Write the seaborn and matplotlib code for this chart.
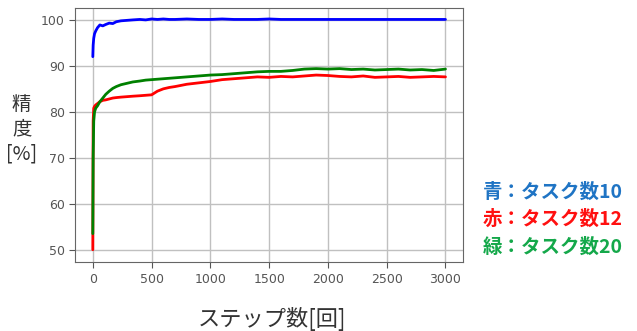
import matplotlib
matplotlib.use("Agg")
import matplotlib.pyplot as plt
import seaborn as sns
import pandas as pd

steps = [0, 3, 8, 15, 25, 40, 60, 85, 110, 140, 170, 200, 240, 290, 340, 400, 450, 500,
         550, 600, 650, 700, 800, 900, 1000, 1100, 1200, 1300, 1400, 1500, 1600, 1700,
         1800, 1900, 2000, 2100, 2200, 2300, 2400, 2500, 2600, 2700, 2800, 2900, 3000]

blue_acc = [92.0, 94.5, 96.0, 97.0, 97.6, 98.3, 98.9, 98.7, 99.0, 99.3, 99.2, 99.6, 99.8, 99.9,
            100.0, 100.1, 100.0, 100.2, 100.1, 100.2, 100.1, 100.1, 100.2, 100.1, 100.1, 100.2,
            100.1, 100.1, 100.1, 100.2, 100.1, 100.1, 100.1, 100.1, 100.1, 100.1, 100.1, 100.1,
            100.1, 100.1, 100.1, 100.1, 100.1, 100.1, 100.1]

red_acc = [50.0, 78.0, 80.8, 81.2, 81.5, 81.8, 82.2, 82.5, 82.6, 82.8, 83.0, 83.1, 83.2, 83.3,
           83.4, 83.5, 83.6, 83.7, 84.5, 85.0, 85.3, 85.5, 86.0, 86.3, 86.6, 87.0, 87.2, 87.4,
           87.6, 87.5, 87.7, 87.6, 87.8, 88.0, 87.9, 87.7, 87.6, 87.8, 87.5, 87.6, 87.7, 87.5,
           87.6, 87.7, 87.6]

green_acc = [53.5, 70.0, 78.0, 80.0, 80.8, 81.3, 82.2, 83.0, 83.8, 84.5, 85.1, 85.5, 85.9, 86.2,
             86.5, 86.7, 86.9, 87.0, 87.1, 87.2, 87.3, 87.4, 87.6, 87.8, 88.0, 88.1, 88.3, 88.5,
             88.7, 88.8, 88.8, 89.0, 89.3, 89.4, 89.3, 89.4, 89.2, 89.3, 89.1, 89.2, 89.3, 89.1,
             89.2, 89.0, 89.3]

labels = ["青：タスク数10", "赤：タスク数12", "緑：タスク数20"]
label_colors = ["#1f74c4", "#ff1010", "#14a84a"]

df = pd.concat([
    pd.DataFrame({"step": steps, "acc": blue_acc, "task": "10"}),
    pd.DataFrame({"step": steps, "acc": red_acc, "task": "12"}),
    pd.DataFrame({"step": steps, "acc": green_acc, "task": "20"}),
])

sns.set_style("ticks")
cjk = ["Noto Sans CJK JP", "DejaVu Sans"]

fig = plt.figure(figsize=(6.37, 3.31), dpi=100)
ax = fig.add_axes([0.118, 0.208, 0.609, 0.768])

sns.lineplot(data=df, x="step", y="acc", hue="task",
             palette={"10": "blue", "12": "red", "20": "green"},
             linewidth=2, legend=False, ax=ax, zorder=3)

ax.set_xlim(-150, 3150)
ax.set_ylim(47.3, 102.6)
ax.set_xticks([0, 500, 1000, 1500, 2000, 2500, 3000])
ax.set_yticks([50, 60, 70, 80, 90, 100])
ax.grid(True, color="#c0c0c0", linewidth=1)
ax.tick_params(labelsize=9, colors="#555555", length=4)
for s in ax.spines.values():
    s.set_color("#666666")
ax.set_xlabel("")
ax.set_ylabel("")

fig.text(0.034, 0.61, "精\n度\n[%]", ha="center", va="center", fontsize=14,
         family=cjk, color="#333333", linespacing=1.25)
fig.text(0.427, 0.035, "ステップ数[回]", ha="center", va="center", fontsize=16,
         family=cjk, color="#333333")

for i, (lab, col) in enumerate(zip(labels, label_colors)):
    fig.text(0.758, 1 - (192 + 27.5 * i) / 331, lab, ha="left", va="center",
             fontsize=14, family=cjk, color=col, fontweight="bold")

fig.savefig("out.png", dpi=100)
